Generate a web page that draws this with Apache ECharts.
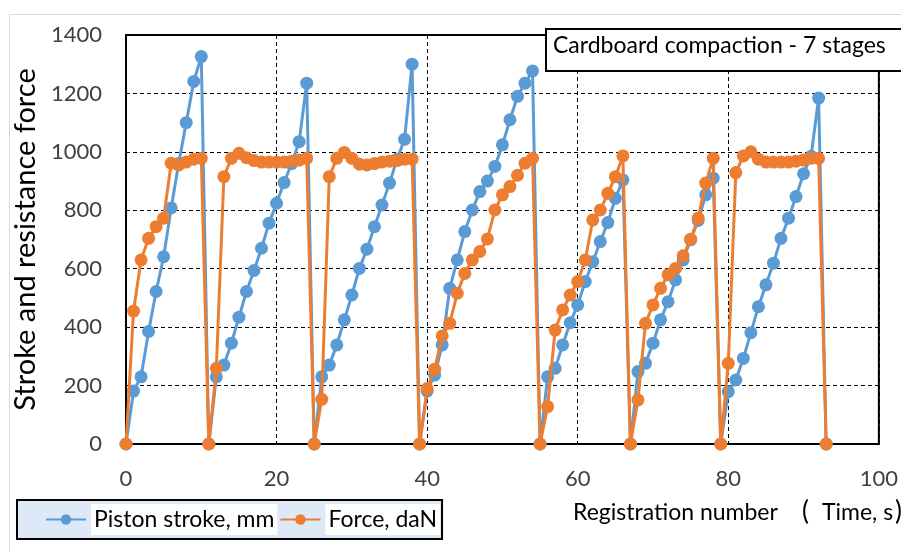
<!DOCTYPE html>
<html>
<head>
<meta charset="utf-8">
<script src="https://cdn.jsdelivr.net/npm/echarts@6/dist/echarts.min.js"></script>
<style>html,body{margin:0;padding:0;background:#fff}#c{width:901px;height:552px}</style>
</head>
<body>
<div id="c"></div>
<script>
// Registration number = array index (0..93)
var stroke = [0,181,230,385,522,641,808,960,1100,1241,1326,
  0,230,270,345,434,522,594,670,756,824,895,960,1035,1235,
  0,230,270,339,425,510,601,667,744,818,893,975,1043,1300,
  0,181,236,339,533,630,727,801,864,900,950,1024,1110,1190,1235,1277,
  0,230,259,339,415,476,556,624,693,758,841,904,
  0,248,276,345,425,487,562,630,699,765,853,910,
  0,179,219,293,381,470,545,619,704,773,847,925,985,1184,0];
var force = [0,455,630,704,744,773,961,955,965,975,978,
  0,259,915,978,995,980,970,965,965,965,965,968,972,978,
  0,153,915,978,998,978,958,955,960,965,968,970,975,975,
  0,190,256,370,413,516,584,630,659,702,801,853,881,920,961,978,
  0,128,390,459,510,556,630,767,801,858,915,986,
  0,151,413,476,533,579,601,644,701,773,893,978,
  0,276,929,986,1000,975,965,965,965,965,968,972,978,978,0];
var seriesNames = ['Piston stroke, mm', 'Force, daN'];
var xTicks = [0, 20, 40, 60, 80, 100];
var yTicks = [0, 200, 400, 600, 800, 1000, 1200, 1400];

function pairs(arr){ return arr.map(function(v,i){ return [i, v]; }); }

var FONT = 'Lato';
var chart = echarts.init(document.getElementById('c'), null, {renderer:'canvas'});
var dash = {color:'#000', width:1, type:[4,3]};
chart.setOption({
  animation:false,
  backgroundColor:'#fff',
  grid:{left:126, right:21, top:35, bottom:108, show:true, borderColor:'#000', borderWidth:2, backgroundColor:'transparent'},
  xAxis:{type:'value', min:xTicks[0], max:xTicks[xTicks.length-1], interval:20,
    axisLine:{show:true, lineStyle:{color:'#000', width:2}},
    axisTick:{show:false},
    axisLabel:{fontFamily:FONT, fontSize:22, color:'#404040', margin:24, formatter:function(v){return String(v);}},
    splitLine:{show:true, lineStyle:dash}},
  yAxis:{type:'value', min:yTicks[0], max:yTicks[yTicks.length-1], interval:200,
    axisLine:{show:true, lineStyle:{color:'#000', width:2}},
    axisTick:{show:false},
    axisLabel:{fontFamily:FONT, fontSize:22, color:'#404040', margin:24, formatter:function(v){return String(v);}},
    splitLine:{show:true, lineStyle:dash},
    name:'Stroke and resistance force', nameLocation:'middle', nameGap:76, nameRotate:90,
    nameTextStyle:{fontFamily:FONT, fontSize:29, color:'#000'}},
  legend:{left:17, top:500, width:420, padding:[4,2,4,28], itemGap:2,
    backgroundColor:'#dde9f6', borderColor:'#000', borderWidth:2, borderRadius:0,
    itemWidth:40, itemHeight:13,
    textStyle:{fontFamily:FONT, fontSize:23, color:'#000', backgroundColor:'#fff', padding:[4,3,4,3]},
    data:seriesNames},
  graphic:[
    {type:'rect', left:7, top:12, shape:{width:1000, height:1000}, style:{fill:'none', stroke:'#d9d9d9', lineWidth:1}, z:-10},
    {type:'rect', left:545, top:28, shape:{width:380, height:42}, style:{fill:'#fff', stroke:'#000', lineWidth:2}, z:100},
    {type:'text', left:553, top:34, style:{text:'Cardboard compaction - 7 stages', font:'23px Lato', fill:'#000'}, z:101},
    {type:'text', left:573, top:501, style:{text:'Registration number', font:'23px Lato', fill:'#000'}, z:101},
    {type:'text', left:802, top:499, style:{text:'(', font:'26px Lato', fill:'#000'}, z:101},
    {type:'text', left:822, top:501, style:{text:'Time, s', font:'23px Lato', fill:'#000'}, z:101},
    {type:'text', left:895, top:499, style:{text:')', font:'26px Lato', fill:'#000'}, z:101}
  ],
  series:[
    {name:seriesNames[0], type:'line', data:pairs(stroke), symbol:'circle', symbolSize:13,
     lineStyle:{color:'#5b9bd5', width:3}, itemStyle:{color:'#5b9bd5'}, z:2},
    {name:seriesNames[1], type:'line', data:pairs(force), symbol:'circle', symbolSize:13,
     lineStyle:{color:'#ed7d31', width:3}, itemStyle:{color:'#ed7d31'}, z:3}
  ]
});
</script>
</body>
</html>
